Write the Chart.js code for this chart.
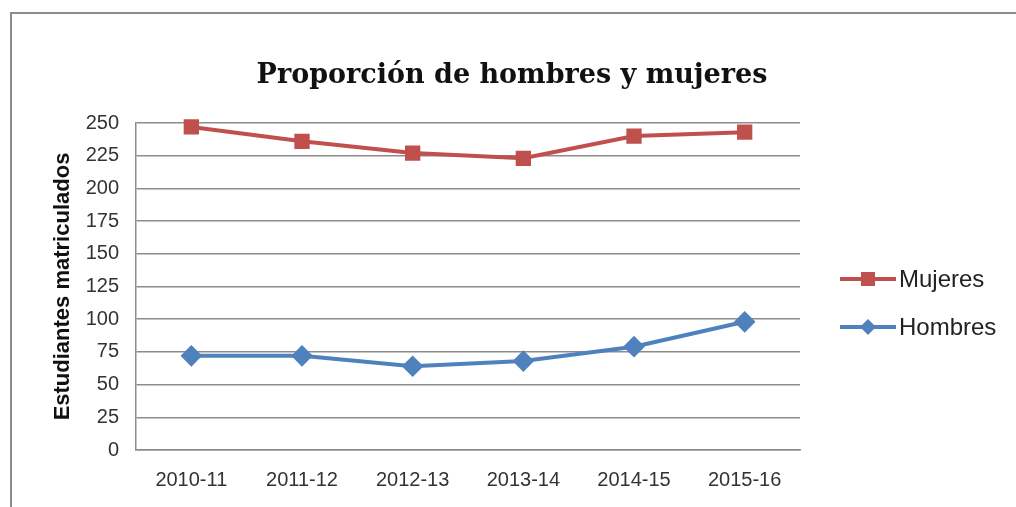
<!DOCTYPE html>
<html>
<head>
<meta charset="utf-8">
<script src="https://cdn.jsdelivr.net/npm/chart.js@4.4.1/dist/chart.umd.min.js"></script>
<style>
    html, body { margin: 0; padding: 0; background: #fff; }
    #wrap { width: 1016px; height: 507px; position: relative; }
</style>
</head>
<body>
<div id="wrap"><canvas id="chart" width="1016" height="507"></canvas></div>
<script>
// datos del gráfico
const cursos = ['2010-11', '2011-12', '2012-13', '2013-14', '2014-15', '2015-16'];
const mujeres = [247, 236, 227, 223, 240, 243];
const hombres = [72, 72, 64, 68, 79, 98];
const yTicks = [0, 25, 50, 75, 100, 125, 150, 175, 200, 225, 250];
const titulo = 'Proporción de hombres y mujeres';

const tickFont = { family: "'Liberation Sans', sans-serif", size: 20 };

// marco exterior, título centrado y leyenda a la derecha
const framePlugin = {
    id: 'frame',
    beforeDraw(chart) {
        const ctx = chart.ctx;
        ctx.save();
        ctx.fillStyle = '#fff';
        ctx.fillRect(0, 0, chart.width, chart.height);
        ctx.strokeStyle = '#8c8c8c';
        ctx.lineWidth = 2;
        ctx.strokeRect(11, 13, 1030, 520);
        ctx.restore();
    },
    afterDraw(chart) {
        const ctx = chart.ctx;
        ctx.save();
        ctx.fillStyle = '#111';
        ctx.font = "bold 27px 'DejaVu Serif', serif";
        ctx.textAlign = 'center';
        ctx.textBaseline = 'middle';
        ctx.fillText(titulo, 512, 76);

        const items = [
            { ds: chart.data.datasets[0], y: 279 },
            { ds: chart.data.datasets[1], y: 327 }
        ];
        items.forEach(({ ds, y }) => {
            ctx.strokeStyle = ds.borderColor;
            ctx.lineWidth = 4;
            ctx.beginPath();
            ctx.moveTo(840, y);
            ctx.lineTo(896, y);
            ctx.stroke();
            ctx.fillStyle = ds.borderColor;
            if (ds.pointStyle === 'rect') {
                ctx.fillRect(861, y - 7, 14, 14);
            } else {
                ctx.beginPath();
                ctx.moveTo(868, y - 8);
                ctx.lineTo(876, y);
                ctx.lineTo(868, y + 8);
                ctx.lineTo(860, y);
                ctx.closePath();
                ctx.fill();
            }
            ctx.fillStyle = '#222';
            ctx.font = "24px 'Liberation Sans', sans-serif";
            ctx.textBaseline = 'middle';
            ctx.textAlign = 'left';
            ctx.fillText(ds.label, 899, y + 1);
        });
        ctx.restore();
    }
};

new Chart(document.getElementById('chart').getContext('2d'), {
    type: 'line',
    data: {
        labels: cursos,
        datasets: [{
            label: 'Mujeres',
            data: mujeres,
            borderColor: '#c0504d',
            backgroundColor: '#c0504d',
            borderWidth: 4,
            pointStyle: 'rect',
            pointRadius: 8,
            pointHoverRadius: 8,
            tension: 0,
            clip: false
        }, {
            label: 'Hombres',
            data: hombres,
            borderColor: '#4f81bd',
            backgroundColor: '#4f81bd',
            borderWidth: 4,
            pointStyle: 'rectRot',
            pointRadius: 8,
            pointHoverRadius: 8,
            tension: 0,
            clip: false
        }]
    },
    options: {
        responsive: false,
        animation: false,
        layout: { autoPadding: false, padding: { left: 50, right: 216, top: 123, bottom: 0 } },
        plugins: {
            legend: { display: false },
            tooltip: { enabled: false },
            title: { display: false }
        },
        scales: {
            x: {
                offset: true,
                afterFit(scale) { scale.height = 57; },
                grid: { display: false, drawTicks: false },
                border: { color: '#8c8c8c', width: 1.5 },
                ticks: { color: '#333', font: tickFont, padding: 18, maxRotation: 0 }
            },
            y: {
                min: 0,
                max: 250,
                afterBuildTicks(axis) { axis.ticks = yTicks.map(v => ({ value: v })); },
                afterFit(scale) { scale.width = 86; },
                grid: { color: '#8c8c8c', lineWidth: 1.5, drawTicks: false },
                border: { color: '#8c8c8c', width: 1.5 },
                ticks: { color: '#333', font: tickFont, padding: 17 },
                title: {
                    display: true,
                    text: 'Estudiantes matriculados',
                    color: '#111',
                    font: { family: "'Liberation Sans', sans-serif", size: 22, weight: 'bold' },
                    padding: { top: 0, bottom: 8 }
                }
            }
        }
    },
    plugins: [framePlugin]
});
</script>
</body>
</html>
